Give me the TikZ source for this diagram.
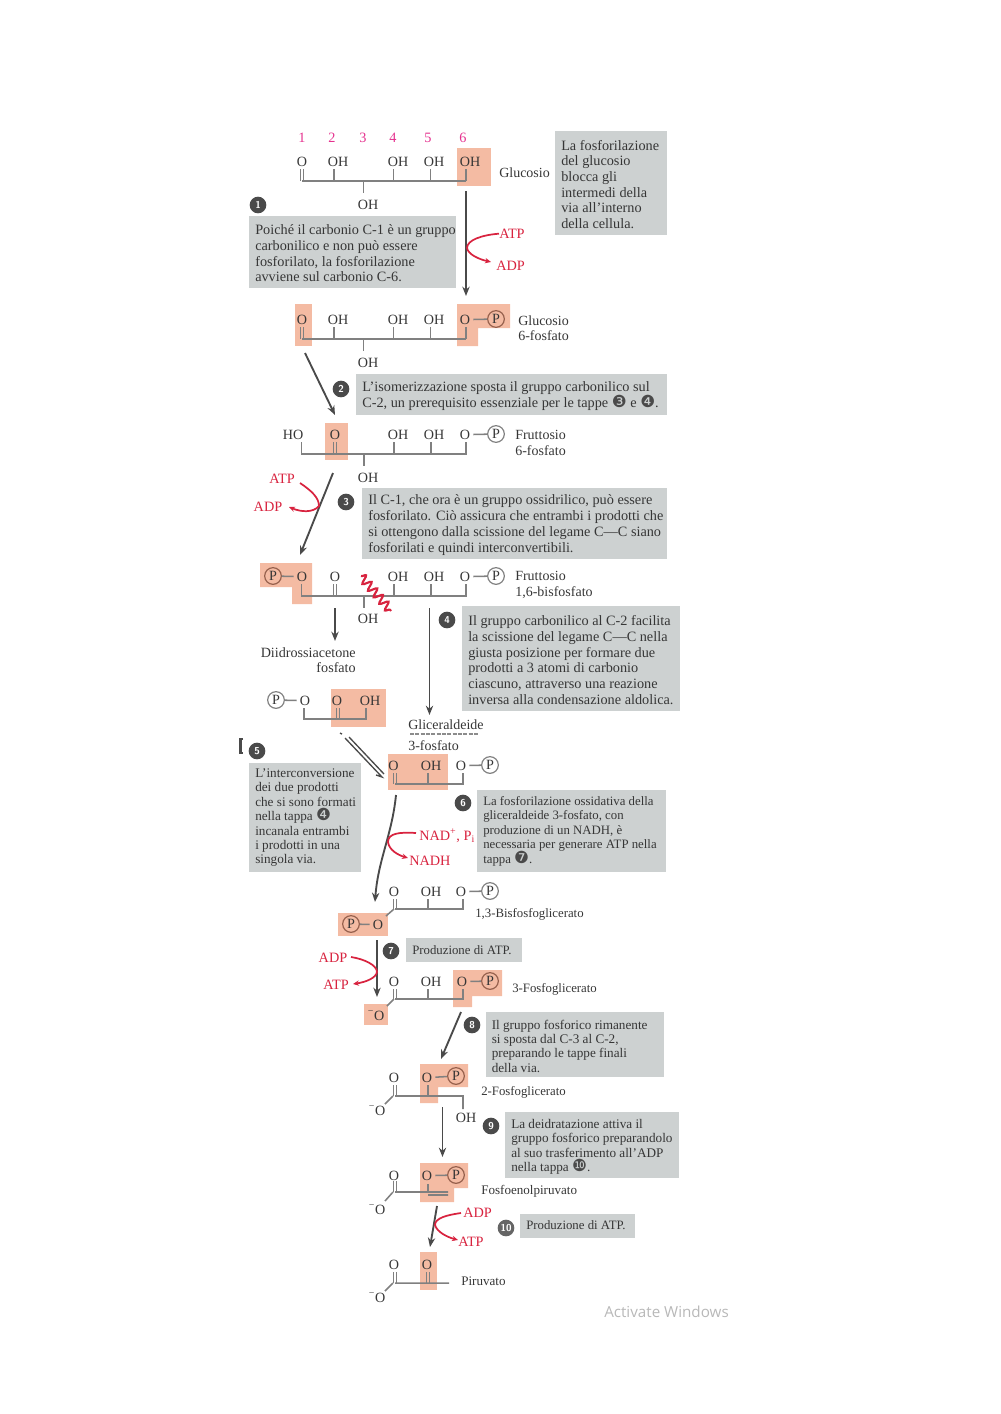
\documentclass[tikz,border=0pt]{standalone}
\usepackage{fontspec}
\setmainfont{Liberation Serif}
\newfontfamily\dvfont{DejaVu Sans}
\newfontfamily\winfont{Open Sans}
\usetikzlibrary{arrows.meta,decorations.pathmorphing}
\definecolor{hl}{HTML}{F4BBA3}
\definecolor{gb}{HTML}{CDD1D1}
\definecolor{tx}{HTML}{363636}
\definecolor{rd}{HTML}{D8233F}
\definecolor{mg}{HTML}{E5318E}
\definecolor{bd}{HTML}{4A4A4A}
\definecolor{bn}{HTML}{808080}
\definecolor{pb}{HTML}{96604C}
\newcommand{\ib}[1]{\smash{{\dvfont\fontsize{12.5}{11}\selectfont\color{bd}\char"#1}}}
\newcommand{\atm}[4]{\node[atom] (#1) at (#2,#3) {#4};}
\newcommand{\pc}[3]{\node[pcirc] (#1) at (#2,#3) {P};}
\newcommand{\pch}[3]{\node[pcirc,draw=pb] (#1) at (#2,#3) {P};}
\newcommand{\gbx}[6]{\fill[gb] (#2,#3) rectangle (#4,#5);\node[boxtext] (#1) at ({#2+6},{(#3+#5)/2}) {#6};}
\newcommand{\badge}[4][]{\node[badgenode,#1] (#2) at (#3) {#4};}
\newcommand{\dblb}[3]{\draw[bond] ({#1-1.4},#2) -- ({#1-1.4},#3) ({#1+1.4},#2) -- ({#1+1.4},#3);}
\tikzset{
 atom/.style={font=\fontsize{10.6}{12}\selectfont,text=tx,inner sep=0pt,yshift=-.5pt},
 lbl/.style={font=\fontsize{10.5}{11.8}\selectfont,text=tx,inner sep=0pt,anchor=west,align=left,yshift=-.5pt},
 lbls/.style={font=\fontsize{9.6}{11}\selectfont,text=tx,inner sep=0pt,anchor=west,align=left,yshift=-.6pt},
 redl/.style={font=\fontsize{10.7}{12}\selectfont,text=rd,inner sep=0pt,yshift=-.5pt},
 boxtext/.style={font=\fontsize{10.7}{11.8}\selectfont,text=tx,inner sep=0pt,anchor=west,align=left,yshift=-1.1pt},
 boxsmall/.style={boxtext,font=\fontsize{9.9}{10.8}\selectfont,yshift=1.1pt},
 pcirc/.style={circle,draw=bn,line width=.9pt,font=\fontsize{10.6}{12}\selectfont,text=tx,inner sep=0pt,minimum size=12.5pt},
 bond/.style={draw=bn,line width=1.15pt},
 pbond/.style={bond,shorten <=2.2pt},
 hlf/.style={fill=hl,draw=none},
 main/.style={draw=bd,line width=1.4pt,-{Stealth[length=7pt,width=5.5pt]}},
 redc/.style={draw=rd,line width=1.3pt,-{Stealth[length=4.5pt,width=4pt]}},
 badgenode/.style={circle,fill=bd,text=white,font=\sffamily\bfseries\fontsize{7.5}{8}\selectfont,inner sep=0pt,minimum size=12.5pt},
 num/.style={font=\fontsize{10.7}{12}\selectfont,text=mg,inner sep=0pt},
}
\begin{document}
\begin{tikzpicture}[x=0.75pt,y=-0.75pt]
\useasboundingbox (0,0) rectangle (1000,1414);
% highlights
\fill[hlf] (457,148) rectangle (491,186);
\fill[hlf] (294.5,304) rectangle (312,346);
\fill[hlf] (457,304) -- (510,304) -- (510,328) -- (478,328) -- (478,346) -- (457,346) -- cycle;
\fill[hlf] (325,423) rectangle (348,460);
\fill[hlf] (260,563) -- (312,563) -- (312,604) -- (292,604) -- (292,587) -- (260,587) -- cycle;
\fill[hlf] (330.5,689) rectangle (386,727);
\fill[hlf] (388,754) rectangle (447.5,790);
\fill[hlf] (338,913) rectangle (388,936);
\fill[hlf] (453,970) -- (502,970) -- (502,996) -- (472,996) -- (472,1007) -- (453,1007) -- cycle;
\fill[hlf] (364,1004) rectangle (388,1025);
\fill[hlf] (420,1064) -- (468,1064) -- (468,1087) -- (438,1087) -- (438,1103) -- (420,1103) -- cycle;
\fill[hlf] (420,1163) -- (468,1163) -- (468,1188) -- (454,1188) -- (454,1202) -- (420,1202) -- cycle;
\fill[hlf] (420,1252) rectangle (437,1290);
% carbon numbers
\node[num] (n1) at (302,138) {1};
\node[num] (n2) at (332,138) {2};
\node[num] (n3) at (363,138) {3};
\node[num] (n4) at (393,138) {4};
\node[num] (n5) at (428,138) {5};
\node[num] (n6) at (463,138) {6};
% Glucosio
\atm{a1}{302}{161}{O}\atm{a2}{338}{161}{OH}\atm{a4}{398}{161}{OH}\atm{a5}{434}{161}{OH}\atm{a6}{470}{161}{OH}\atm{a3}{368}{204}{OH}
\draw[bond] (302,181) -- (466,181) (334,169) -- (334,181) (393.5,169) -- (393.5,181) (430.5,169) -- (430.5,181) (466,169) -- (466,181) (363.5,181) -- (363.5,193);
\dblb{302}{169}{181}
\node[lbl] (glu) at (499,172.5) {Glucosio};
\gbx{bx0}{555}{131}{667}{235}{La fosforilazione\\del glucosio\\blocca gli\\intermedi della\\via all’interno\\della cellula.}
\badge{b1}{258,205}{1}
\gbx{bx1}{249}{216}{456}{288}{Poiché il carbonio C-1 è un gruppo\\carbonilico e non può essere\\fosforilato, la fosforilazione\\avviene sul carbonio C-6.}
% Arrow 1
\coordinate (s1) at (466,191);\coordinate (e1) at (466,296);
\draw[main] (s1) -- (e1);
\node[redl,anchor=west] (atp1) at (499,233) {ATP};
\node[redl,anchor=west] (adp1) at (496,265) {ADP};
\draw[redc] (atp1.west) .. controls (482,235) and (467,240) .. (467,248) .. controls (468,254) and (478,259) .. (491,262);
% G6P
\atm{c1}{302}{319}{O}\atm{c2}{338}{319}{OH}\atm{c4}{398}{319}{OH}\atm{c5}{434}{319}{OH}\atm{c6}{465}{319}{O}\pch{cp}{496}{319}\atm{c3}{368}{362}{OH}
\draw[bond] (302,339) -- (466,339) (334,327) -- (334,339) (393.5,327) -- (393.5,339) (430.5,327) -- (430.5,339) (466,327) -- (466,339) (363.5,339) -- (363.5,351);
\draw[pbond] (c6) -- (cp);
\dblb{302}{327}{339}
\node[lbl] (g6p) at (518,327.5) {Glucosio\\6-fosfato};
% Arrow 2
\coordinate (s2) at (305,353);\coordinate (e2) at (335,415);
\draw[main] (s2) -- (e2);
\badge{b2}{341,389}{2}
\gbx{bx2}{356}{374}{667}{415}{L’isomerizzazione sposta il gruppo carbonilico sul\\C-2, un prerequisito essenziale per le tappe \ib{2778} e \ib{2779}.}
% F6P
\atm{d1}{293}{434}{HO}\atm{d2}{335}{434}{O}\atm{d4}{398}{434}{OH}\atm{d5}{434}{434}{OH}\atm{d6}{465}{434}{O}\pc{dp}{496}{434}\atm{d3}{368}{477}{OH}
\draw[bond] (301.5,442) -- (301.5,454) -- (466,454) -- (466,442) (394,442) -- (394,454) (431,442) -- (431,454) (364,454) -- (364,466);
\draw[pbond] (d6) -- (dp);
\dblb{335}{442}{454}
\node[lbl] (f6p) at (515,442) {Fruttosio\\6-fosfato};
% Arrow 3
\coordinate (s3) at (333,473);\coordinate (e3) at (300,555);
\draw[main] (s3) -- (e3);
\node[redl] (atp3) at (282,478) {ATP};
\node[redl] (adp3) at (268,506) {ADP};
\draw[redc] (300,483) .. controls (312,491) and (319,498) .. (319,506) .. controls (313,513) and (301,512) .. (289,507);
\badge{b3}{346,502}{3}
\gbx{bx3}{362}{488}{667}{559}{Il C-1, che ora è un gruppo ossidrilico, può essere\\fosforilato. Ciò assicura che entrambi i prodotti che\\si ottengono dalla scissione del legame C—C siano\\fosforilati e quindi interconvertibili.}
% F1,6BP
\pch{ep1}{273}{576}\atm{e1a}{302}{576}{O}\atm{e2a}{335}{576}{O}\atm{e4}{398}{576}{OH}\atm{e5}{434}{576}{OH}\atm{e6}{465}{576}{O}\pc{ep}{496}{576}\atm{e3a}{368}{618}{OH}
\draw[bond] (301.5,584) -- (301.5,596) -- (466,596) -- (466,584) (394,584) -- (394,596) (431,584) -- (431,596) (364,596) -- (364,608);
\draw[pbond] (e6) -- (ep);
\draw[pbond] (e1a) -- (ep1);
\dblb{335}{584}{596}
\node[lbl] (f16) at (515,584) {Fruttosio\\1,6-bisfosfato};
\draw[draw=rd,line width=1.6pt,decorate,decoration={snake,amplitude=3.2pt,segment length=6.5pt}] (361,576) -- (391,611);
% split
\coordinate (s4a) at (335,608);\coordinate (e4a) at (335,641);
\draw[main] (s4a) -- (e4a);
\coordinate (s4b) at (429.5,608);\coordinate (e4b) at (429.5,715);
\draw[main] (s4b) -- (e4b);
\badge{b4}{447,620}{4}
\gbx{bx4}{462}{606}{680}{711}{Il gruppo carbonilico al C-2 facilita\\la scissione del legame C—C nella\\giusta posizione per formare due\\prodotti a 3 atomi di carbonio\\ciascuno, attraverso una reazione\\inversa alla condensazione aldolica.}
\node[atom,align=right,font=\fontsize{10.6}{11.5}\selectfont,anchor=east] (dhap) at (356,659.5) {Diidrossiacetone\\fosfato};
% DHAP
\pc{fp}{276}{700}\atm{f1}{305}{700}{O}\atm{f2}{337}{700}{O}\atm{f3}{370}{700}{OH}
\draw[bond] (304,708) -- (304,719) -- (366,719) -- (366,708);
\draw[pbond] (f1) -- (fp);
\dblb{338}{708}{719}
\node[lbl] (gap1) at (408,724) {Gliceraldeide};
\draw[draw=black!45,line width=1.1pt,dash pattern=on 3pt off 1pt] (410,734) -- (478,734);
\node[lbl] (gap3) at (408,745) {3-fosfato};
% equilibrium
\coordinate (s5a) at (345,738);\coordinate (e5a) at (382,777);
\coordinate (s5b) at (349,737);\coordinate (e5b) at (384,774);
\draw[draw=bd,line width=1pt] (s5a) -- (e5a) -- (376,775);
\draw[draw=bd,line width=1pt] (s5b) -- (e5b);
\draw[draw=bd,line width=1pt] (340,733) -- (342,734);
% stray mark
\draw[draw=bd,line width=2.2pt] (243,739) -- (240.5,739) -- (240.5,753) -- (243,753);
\badge{b5}{257,751}{5}
\fill[gb] (249,763) rectangle (361,872);
\node[boxsmall,yshift=-.5pt] (bx5) at (255,817) {L’interconversione\\dei due prodotti\\che si sono formati\\nella tappa \ib{2779}\\incanala entrambi\\i prodotti in una\\singola via.};
% GAP
\atm{g1}{393.5}{765}{O}\atm{g2}{431}{765}{OH}\atm{g3}{461}{765}{O}\pc{gp}{490}{765}
\draw[bond] (395,784) -- (463,784) -- (463,773) (428,773) -- (428,784);
\draw[pbond] (g3) -- (gp);
\dblb{395}{773}{784}
% Arrow 6
\coordinate (s6) at (396,795);\coordinate (e6x) at (375,902);
\draw[main] (s6) .. controls (392,835) and (378,860) .. (e6x);
\node[redl,anchor=west] (nad) at (419,835) {NAD\textsuperscript{+}, P\textsubscript{i}};
\node[redl,anchor=west] (nadh) at (409,860) {NADH};
\draw[redc] (416,833) .. controls (400,832) and (388,833) .. (388,842) .. controls (389,850) and (398,855) .. (408,858);
\badge{b6}{463,803}{6}
\fill[gb] (477,790) rectangle (666,872);
\node[boxsmall,font=\fontsize{9.6}{10.9}\selectfont] (bx6) at (483,831) {La fosforilazione ossidativa della\\gliceraldeide 3-fosfato, con\\produzione di un NADH, è\\necessaria per generare ATP nella\\tappa \ib{277C}.};
% 1,3BPG
\atm{h1}{394}{891}{O}\atm{h2}{431}{891}{OH}\atm{h3}{461}{891}{O}\pc{hp}{490}{891}\pch{hq}{351}{924}\atm{h4}{378}{924}{O}
\draw[bond] (395,909) -- (463,909) -- (463,899) (428,899) -- (428,909) (394,909) -- (386,916);
\draw[pbond] (h3) -- (hp);
\draw[pbond] (h4) -- (hq);
\dblb{395}{899}{909}
\node[lbls] (bpg) at (475,914) {1,3-Bisfosfoglicerato};
% Arrow 7
\coordinate (s7) at (377,940);\coordinate (e7) at (377,997);
\draw[main] (s7) -- (e7);
\node[redl] (adp7) at (333,957) {ADP};
\node[redl] (atp7) at (336,984) {ATP};
\draw[redc] (351,957) .. controls (364,959) and (377,965) .. (377,972) .. controls (376,978) and (366,982) .. (353,984);
\badge{b7}{391,951}{7}
\fill[gb] (406,938) rectangle (522,962);
\node[boxsmall,font=\fontsize{9.6}{10.8}\selectfont] (bx7) at (412,950) {Produzione di ATP.};
% 3PG
\atm{i1}{394}{981}{O}\atm{i2}{431}{981}{OH}\atm{i3}{462}{981}{O}\pch{ip}{490}{981}\atm{i4}{376}{1015}{\textsuperscript{−}O}
\draw[bond] (395,999) -- (463,999) -- (463,989) (428,989) -- (428,999) (394,999) -- (387,1006);
\draw[pbond] (i3) -- (ip);
\dblb{395}{989}{999}
\node[lbls] (pg3) at (512,989) {3-Fosfoglicerato};
% Arrow 8
\coordinate (s8) at (461,1012);\coordinate (e8) at (441,1059);
\draw[main] (s8) -- (e8);
\badge{b8}{472,1025}{8}
\fill[gb] (486,1012) rectangle (664,1077);
\node[boxsmall,yshift=-.5pt] (bx8) at (491.5,1045.5) {Il gruppo fosforico rimanente\\si sposta dal C-3 al C-2,\\preparando le tappe finali\\della via.};
% 2PG
\atm{j1}{394}{1077}{O}\atm{j2}{427}{1077}{O}\pch{jp}{456}{1076}\atm{j3}{466}{1117}{OH}\atm{j4}{377}{1110}{\textsuperscript{−}O}
\draw[bond] (395,1096) -- (463,1096) -- (463,1109) (428,1085) -- (428,1096) (393,1096) -- (385,1104);
\draw[pbond] (j2) -- (jp);
\dblb{395}{1085}{1096}
\node[lbls] (pg2) at (481,1092) {2-Fosfoglicerato};
% Arrow 9
\coordinate (s9) at (442.5,1107);\coordinate (e9) at (442.5,1157);
\draw[main] (s9) -- (e9);
\badge{b9}{491,1126}{9}
\fill[gb] (505,1112) rectangle (679,1178);
\node[boxsmall,yshift=-.5pt] (bx9) at (511,1146) {La deidratazione attiva il\\gruppo fosforico preparandolo\\al suo trasferimento all’ADP\\nella tappa \ib{277F}.};
% PEP
\atm{k1}{394}{1175}{O}\atm{k2}{427}{1175}{O}\pch{kp}{456}{1175}\atm{k4}{377}{1209}{\textsuperscript{−}O}
\draw[bond] (395,1192) -- (448,1192) (428,1184) -- (428,1192) (428,1195) -- (448,1195) (393,1192) -- (385,1201);
\draw[pbond] (k2) -- (kp);
\dblb{395}{1181}{1192}
\node[lbls,font=\fontsize{9.8}{11}\selectfont] (pep) at (481,1190) {Fosfoenolpiruvato};
% Arrow 10
\coordinate (s10) at (437,1206);\coordinate (e10) at (430,1247);
\draw[main] (s10) -- (e10);
\node[redl,anchor=west] (adp10) at (463,1212) {ADP};
\node[redl,anchor=west] (atp10) at (458,1241) {ATP};
\draw[redc] (461,1213) .. controls (447,1215) and (435,1218) .. (435,1225) .. controls (437,1232) and (447,1237) .. (458,1240);
\node[badgenode,fill=bd!85] (b10) at (506,1228) {10};
\fill[gb] (520,1214) rectangle (635,1238);
\node[boxsmall,font=\fontsize{9.6}{10.8}\selectfont] (bx10) at (526,1225) {Produzione di ATP.};
% Piruvato
\atm{l1}{394}{1264}{O}\atm{l2}{427}{1264}{O}\atm{l4}{377}{1297}{\textsuperscript{−}O}
\draw[bond] (395,1283) -- (449,1283) (393,1283) -- (385,1291);
\dblb{395}{1272}{1283}
\dblb{428}{1272}{1283}
\node[lbls,font=\fontsize{9.8}{11}\selectfont] (pir) at (461,1280) {Piruvato};
\node[font=\winfont\fontsize{11.4}{13}\selectfont,text=black!28,anchor=west,inner sep=0pt] (win) at (604,1312) {Activate Windows};
\end{tikzpicture}
\end{document}
